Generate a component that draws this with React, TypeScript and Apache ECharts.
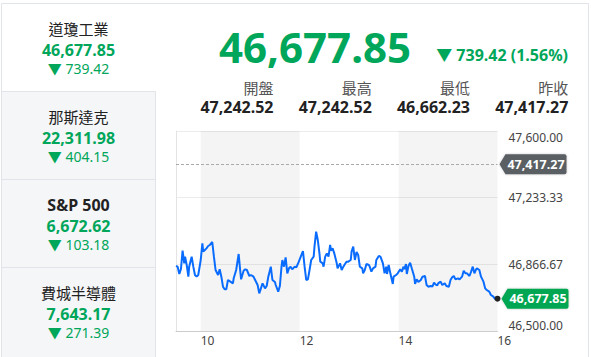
import React, { useEffect, useRef } from "react";
import * as echarts from "echarts";

// ---- data ----
const indexNames = ["道瓊工業", "那斯達克", "S&P 500", "費城半導體"];
const indexValues = ["46,677.85", "22,311.98", "6,672.62", "7,643.17"];
const indexChanges = ["739.42", "404.15", "103.18", "271.39"];

const mainValue = "46,677.85";
const mainChange = "739.42 (1.56%)";
const statLabels = ["開盤", "最高", "最低", "昨收"];
const statValues = ["47,242.52", "47,242.52", "46,662.23", "47,417.27"];

const prevClose = 47417.27;
const yTicks = [46500, 46866.67, 47233.33, 47600];
const xTickLabels: Record<number, string> = { 30: "10", 150: "12", 270: "14", 390: "16" };
const shadedBands = [[30, 150], [270, 390]];

// minutes after 09:30
const minutes = [
  0, 2, 4, 6, 8, 10, 11, 13, 15, 16, 18, 19, 21, 23, 25, 27, 30, 32, 33, 35,
  37, 39, 41, 44, 46, 48, 51, 53, 55, 57, 59, 61, 63, 66, 69, 70, 73, 76, 78, 79,
  82, 84, 86, 89, 91, 94, 96, 99, 101, 103, 105, 108, 110, 112, 115, 117, 120, 121, 124, 126,
  128, 129, 131, 133, 135, 137, 139, 141, 144, 146, 149, 151, 154, 156, 158, 160, 162, 164, 167, 168,
  170, 172, 174, 175, 178, 179, 181, 183, 185, 187, 188, 190, 192, 195, 196, 199, 201, 203, 205, 207,
  209, 212, 213, 215, 217, 219, 221, 223, 226, 227, 229, 231, 234, 235, 237, 239, 242, 243, 246, 248,
  251, 253, 255, 256, 258, 260, 263, 264, 267, 269, 272, 274, 276, 277, 279, 280, 282, 284, 286, 289,
  290, 292, 294, 297, 299, 302, 304, 306, 309, 311, 313, 315, 317, 318, 321, 323, 326, 328, 331, 333,
  335, 337, 339, 342, 344, 347, 349, 351, 353, 356, 358, 360, 362, 364, 365, 368, 370, 373, 375, 377,
  380, 382, 385, 387, 390,
];
const prices = [
  46857.5, 46853.8, 46813.5, 46841.0, 46941.8, 46872.2, 46908.8, 46863.0, 46798.8, 46853.8,
  46890.5, 46908.8, 46853.8, 46808.0, 46798.8, 46808.0, 46890.5, 46982.2, 46936.3, 46945.5,
  46954.7, 46967.5, 46973.0, 46989.5, 46908.8, 46835.5, 46808.0, 46839.2, 46798.8, 46743.8,
  46729.2, 46729.2, 46780.5, 46771.3, 46762.2, 46789.7, 46835.5, 46923.5, 46826.3, 46784.2,
  46831.8, 46839.2, 46835.5, 46802.5, 46808.0, 46798.8, 46780.5, 46753.0, 46707.2, 46734.7,
  46762.2, 46734.7, 46747.5, 46798.8, 46853.8, 46780.5, 46769.5, 46753.0, 46716.3, 46747.5,
  46853.8, 46890.5, 46853.8, 46905.2, 46817.2, 46844.7, 46853.8, 46839.2, 46853.8, 46850.2,
  46881.3, 46905.2, 46940.0, 46853.8, 46780.5, 46784.2, 46835.5, 46890.5, 46908.8, 46963.8,
  47046.3, 47000.5, 46927.2, 46881.3, 46872.2, 46853.8, 46908.8, 46927.2, 46908.8, 46973.0,
  46941.8, 46954.7, 46927.2, 46872.2, 46844.7, 46872.2, 46835.5, 46853.8, 46868.5, 46881.3,
  46881.3, 46890.5, 46936.3, 46963.8, 46890.5, 46934.5, 46918.0, 46853.8, 46844.7, 46817.2,
  46835.5, 46868.5, 46863.0, 46853.8, 46826.3, 46844.7, 46853.8, 46890.5, 46912.5, 46908.8,
  46872.2, 46817.2, 46853.8, 46813.5, 46863.0, 46817.2, 46758.5, 46798.8, 46808.0, 46817.2,
  46839.2, 46826.3, 46853.8, 46839.2, 46868.5, 46813.5, 46857.5, 46875.8, 46844.7, 46798.8,
  46758.5, 46784.2, 46769.5, 46780.5, 46798.8, 46802.5, 46753.0, 46743.8, 46747.5, 46743.8,
  46765.8, 46754.8, 46751.2, 46762.2, 46771.3, 46753.0, 46762.2, 46747.5, 46743.8, 46780.5,
  46795.2, 46802.5, 46784.2, 46789.7, 46784.2, 46798.8, 46831.8, 46817.2, 46817.2, 46802.5,
  46826.3, 46853.8, 46817.2, 46839.2, 46844.7, 46835.5, 46798.8, 46771.3, 46734.7, 46725.5,
  46716.3, 46698.0, 46688.8, 46676.0, 46677.85,
];

const GREEN = "#00a65a";
const BORDER = "#e1e4e8";
const CJK = "'Noto Sans CJK TC', sans-serif";
const NUM = "'Noto Sans', 'Noto Sans CJK TC', sans-serif";

const fmt = (v: number) =>
  v.toLocaleString("en-US", { minimumFractionDigits: 2, maximumFractionDigits: 2 });

const TAG = "path://M0,10 L6,0 L65,0 Q67,0 67,2 L67,18 Q67,20 65,20 L6,20 Z";

export default function App() {
  const ref = useRef<HTMLDivElement>(null);
  useEffect(() => {
    if (!ref.current) return;
    const chart = echarts.init(ref.current, null, { renderer: "svg" });
    const seriesData = minutes.map((m, i) => [m, prices[i]]);
    const lastX = minutes[minutes.length - 1];
    const lastY = prices[prices.length - 1];

    const cardTop = [3, 91, 179, 267];
    const leftGraphics: any[] = [];
    leftGraphics.push({
      type: "rect", shape: { x: 1.5, y: 91.5, width: 154, height: 270 },
      style: { fill: "#f5f6f8", stroke: BORDER, lineWidth: 1 }, silent: true,
    });
    [179.5, 267.5].forEach((y) =>
      leftGraphics.push({ type: "line", shape: { x1: 1.5, y1: y, x2: 155.5, y2: y }, style: { stroke: BORDER, lineWidth: 1 } })
    );
    leftGraphics.push({ type: "line", shape: { x1: 1.5, y1: 3.5, x2: 588.5, y2: 3.5 }, style: { stroke: BORDER, lineWidth: 1 } });
    leftGraphics.push({ type: "line", shape: { x1: 1.5, y1: 3.5, x2: 1.5, y2: 360 }, style: { stroke: BORDER, lineWidth: 1 } });
    leftGraphics.push({ type: "line", shape: { x1: 588.5, y1: 3.5, x2: 588.5, y2: 360 }, style: { stroke: BORDER, lineWidth: 1 } });

    indexNames.forEach((name, i) => {
      const t = cardTop[i];
      const latin = i === 2;
      leftGraphics.push({
        type: "text", x: 78.5, y: t + 25.5,
        style: { text: name, align: "center", verticalAlign: "middle", fill: "#222", fontSize: latin ? 16 : 15,
          fontFamily: latin ? NUM : CJK, fontWeight: latin ? "bold" : "normal" },
      });
      leftGraphics.push({
        type: "text", x: 78.5, y: t + 46.5,
        style: { text: indexValues[i], align: "center", verticalAlign: "middle", fill: GREEN, fontSize: 16,
          fontFamily: NUM, fontWeight: "bold" },
      });
      leftGraphics.push({
        type: "text", x: 78.5, y: t + 65.5,
        style: { text: "▼ " + indexChanges[i], align: "center", verticalAlign: "middle", fill: GREEN, fontSize: 14,
          fontFamily: NUM },
      });
    });

    const rightGraphics: any[] = [
      {
        type: "text", x: 411, y: 46,
        style: { text: mainValue, align: "right", verticalAlign: "middle", fill: GREEN, fontSize: 42,
          fontFamily: NUM, fontWeight: "bold" },
      },
      {
        type: "text", x: 568, y: 55,
        style: { text: "▼ " + mainChange, align: "right", verticalAlign: "middle", fill: GREEN, fontSize: 16,
          fontFamily: NUM, fontWeight: "bold" },
      },
    ];
    const statX = [273.5, 371.8, 470, 568.3];
    statLabels.forEach((l, i) => {
      rightGraphics.push({
        type: "text", x: statX[i], y: 87,
        style: { text: l, align: "right", verticalAlign: "middle", fill: "#555", fontSize: 15, fontFamily: CJK },
      });
      rightGraphics.push({
        type: "text", x: statX[i], y: 106.5,
        style: { text: statValues[i], align: "right", verticalAlign: "middle", fill: "#222", fontSize: 16,
          fontFamily: NUM, fontWeight: "bold" },
      });
    });

    chart.setOption({
      animation: false,
      textStyle: { fontFamily: NUM },
      graphic: [...leftGraphics, ...rightGraphics],
      grid: { left: 176, right: 93.5, top: 131, bottom: 26 },
      xAxis: {
        type: "value", min: 0, max: 390, interval: 30,
        axisLine: { show: true, lineStyle: { color: "#ccc" } },
        axisTick: { show: false },
        splitLine: { show: false },
        axisLabel: {
          formatter: (v: number) => xTickLabels[v] ?? "",
          align: "left", margin: 3, color: "#444", fontSize: 12,
        },
      },
      yAxis: {
        type: "value", position: "right", min: 46500, max: 47600, scale: true,
        axisLine: { show: true, lineStyle: { color: "#e4e4e4" } },
        axisTick: { show: false, customValues: yTicks },
        splitLine: { show: true, lineStyle: { color: "#ececec" } },
        axisLabel: {
          customValues: yTicks,
          formatter: (v: number) => fmt(v),
          margin: 11, color: "#444", fontSize: 12, align: "left",
          verticalAlignMinLabel: "bottom", verticalAlignMaxLabel: "top",
        },
      },
      series: [
        {
          type: "line", data: seriesData, showSymbol: false, symbol: "none",
          lineStyle: { color: "#0a6cff", width: 2 },
          markArea: {
            silent: true,
            itemStyle: { color: "rgba(0,0,0,0.045)" },
            data: shadedBands.map(([a, b]) => [{ xAxis: a }, { xAxis: b }]),
          },
          markLine: {
            silent: true, symbol: ["none", "none"],
            lineStyle: { color: "#aaa", type: [3, 2], width: 1 },
            label: { show: false },
            data: [{ yAxis: prevClose }],
          },
          markPoint: {
            silent: true,
            data: [
              {
                coord: [lastX, prevClose], symbol: TAG, symbolSize: [67, 20], symbolOffset: [35.5, 0],
                itemStyle: { color: "#5a5e63", shadowBlur: 2, shadowColor: "rgba(0,0,0,0.25)" },
                label: { show: true, position: "inside", offset: [3, 0], formatter: fmt(prevClose), color: "#fff",
                  fontSize: 12.5, fontWeight: "bold", fontFamily: NUM },
              },
              {
                coord: [lastX, lastY], symbol: TAG, symbolSize: [67, 20], symbolOffset: [37.5, 0],
                itemStyle: { color: "#00a651", shadowBlur: 2, shadowColor: "rgba(0,0,0,0.25)" },
                label: { show: true, position: "inside", offset: [3, 0], formatter: fmt(lastY), color: "#fff",
                  fontSize: 12.5, fontWeight: "bold", fontFamily: NUM },
              },
              {
                coord: [lastX, lastY], symbol: "circle", symbolSize: 6,
                itemStyle: { color: "#222" }, label: { show: false },
              },
            ],
          },
        },
      ],
    });
    return () => chart.dispose();
  }, []);
  return (
    <div
      ref={ref}
      style={{ position: "fixed", left: 0, top: 0, width: 591, height: 357, background: "#fff" }}
    />
  );
}
